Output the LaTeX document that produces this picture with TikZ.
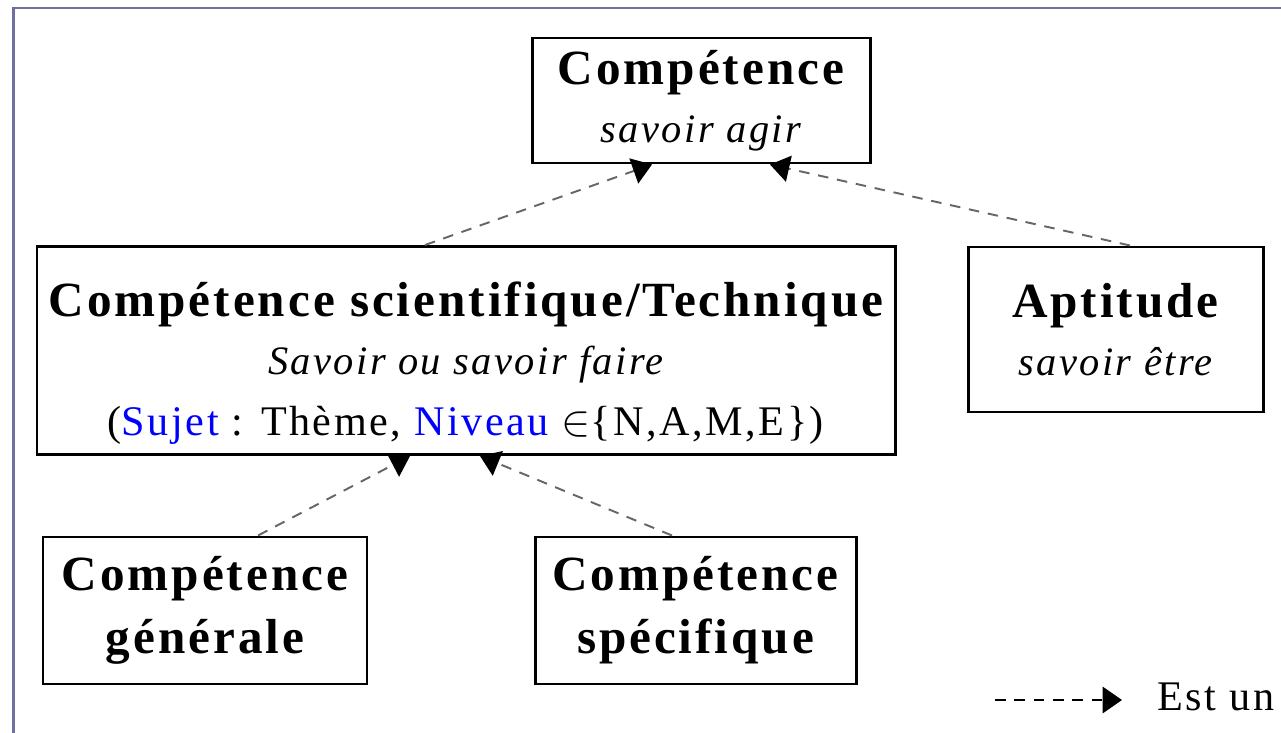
\documentclass[tikz,border=0pt]{standalone}
\usepackage{fontspec}
\setmainfont{Liberation Serif}[LetterSpace=6]
\usetikzlibrary{arrows.meta, calc}
\definecolor{framecol}{RGB}{112,112,160}
\definecolor{keyblue}{RGB}{0,0,255}
\newcommand{\titre}[1]{{\fontsize{28}{33}\selectfont\bfseries #1}}
\newcommand{\soustitre}[1]{{\fontsize{23}{33}\selectfont\itshape #1}}

\begin{document}
\begin{tikzpicture}[x=0.02cm, y=-0.02cm,
    box/.style={rectangle, draw=black, line width=1.7pt, align=center, inner sep=0pt, font=\fontsize{24}{33}\selectfont},
    isa/.style={-{Triangle[length=11pt, width=15pt, color=black]}, dash pattern=on 6pt off 5pt, line width=1.1pt, draw=black!60}
]
\useasboundingbox (0,0) rectangle (1281,733);
\draw[framecol, line width=1.5pt] (13.5,733) -- (13.5,8) -- (1281,8);

\node[box, minimum width=338*0.02cm, minimum height=125*0.02cm] (comp) at (701,100.5)
    {\titre{Compétence}\\ \soustitre{savoir agir}};
\node[box, minimum width=858*0.02cm, minimum height=208*0.02cm] (scitech) at (466,350.5)
    {\rule{0pt}{34pt}\titre{Compétence scientifique/Technique}\\ \soustitre{Savoir ou savoir faire}\\[2pt]
     ({\color{keyblue}Sujet} : Thème, {\color{keyblue}Niveau} $\in$\{N,A,M,E\})};
\node[box, minimum width=295*0.02cm, minimum height=165*0.02cm] (aptitude) at (1115.5,329.5)
    {\titre{Aptitude}\\ \soustitre{savoir être}};
\node[box, minimum width=324*0.02cm, minimum height=147*0.02cm] (generale) at (205,610.5)
    {\titre{Compétence}\\[3pt] \titre{générale}};
\node[box, minimum width=321*0.02cm, minimum height=147*0.02cm] (specifique) at (695.5,610.5)
    {\titre{Compétence}\\[3pt] \titre{spécifique}};

\draw[isa] ($(scitech.north)+(-41,0)$) -- ($(comp.south)+(-49,0)$);
\draw[isa] ($(aptitude.north)+(14.5,0)$) -- ($(comp.south)+(69,0)$);
\draw[isa] ($(generale.north)+(53,0)$) -- ($(scitech.south)+(-56,0)$);
\draw[isa] ($(specifique.north)+(-23.5,0)$) -- ($(scitech.south)+(14,0)$);

% legende
\coordinate (legA) at (995,700);
\coordinate (legB) at (1122,700);
\draw[isa, draw=black] (legA) -- (legB);
\node[anchor=base, font=\fontsize{24}{30}\selectfont] (legtxt) at (1216,710) {Est un};
\end{tikzpicture}
\end{document}
